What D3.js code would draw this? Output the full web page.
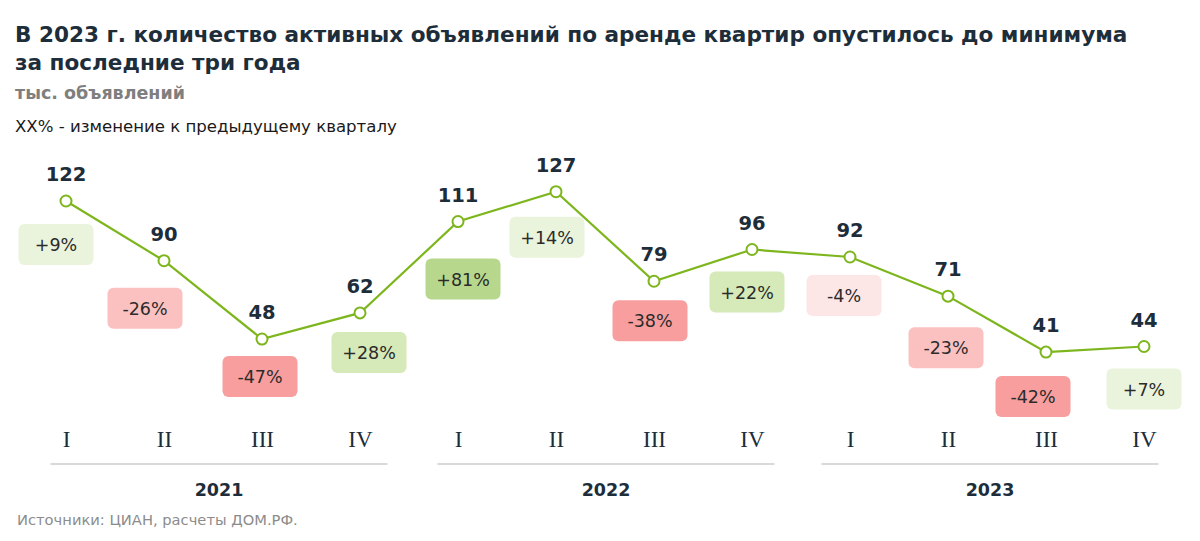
<!DOCTYPE html>
<html>
<head>
<meta charset="utf-8">
<script src="https://cdn.jsdelivr.net/npm/d3@7/dist/d3.min.js"></script>
<style>
  html, body { margin: 0; padding: 0; background: #ffffff; }
  svg { display: block; }
</style>
</head>
<body>
<svg id="chart" width="1200" height="541"></svg>
<script>
// ---- data ----
const quarters = ["I", "II", "III", "IV", "I", "II", "III", "IV", "I", "II", "III", "IV"];
const years = ["2021", "2022", "2023"];
const values = [122, 90, 48, 62, 111, 127, 79, 96, 92, 71, 41, 44];
const changes = [9, -26, -47, 28, 81, 14, -38, 22, -4, -23, -42, 7];

// ---- layout (label box placement relative to each point, as in the original) ----
const boxDx = [-10, -19, -2, 9, 5, -9, -4, -5, -6, -2, -13, 0];
const boxDy = [23, 27, 17, 19, 37, 25, 19, 22, 18, 31, 24, 22];

const svg = d3.select("#chart");
const dark = "#1e2d3a";
const lineGreen = "#7db61c";

function fitWidth(sel, target) {
  const node = sel.node();
  const fs = parseFloat(sel.attr("font-size"));
  const w = node.getComputedTextLength();
  sel.attr("font-size", (fs * target / w).toFixed(2));
  return fs * target / w;
}

// ---- titles ----
const t1 = svg.append("text").attr("x", 15).attr("y", 42)
  .attr("font-family", "DejaVu Sans, Verdana, sans-serif").attr("font-weight", "bold")
  .attr("font-size", 22).attr("fill", dark)
  .text("В 2023 г. количество активных объявлений по аренде квартир опустилось до минимума");
const titleSize = fitWidth(t1, 1113);
svg.append("text").attr("x", 15).attr("y", 70)
  .attr("font-family", "DejaVu Sans, Verdana, sans-serif").attr("font-weight", "bold")
  .attr("font-size", titleSize).attr("fill", dark)
  .text("за последние три года");
const t3 = svg.append("text").attr("x", 15).attr("y", 99)
  .attr("font-family", "DejaVu Sans, Verdana, sans-serif").attr("font-weight", "bold")
  .attr("font-size", 17).attr("fill", "#7f7f7f")
  .text("тыс. объявлений");
fitWidth(t3, 170);
const t4 = svg.append("text").attr("x", 15).attr("y", 132)
  .attr("font-family", "DejaVu Sans, Verdana, sans-serif")
  .attr("font-size", 17).attr("fill", "#1a1a1a")
  .text("XX% - изменение к предыдущему кварталу");
fitWidth(t4, 382);

// ---- scales ----
const idx = d3.range(values.length);
const x = d3.scalePoint().domain(idx).range([66, 1144]);
const y = d3.scaleLinear().domain([41, 127]).range([352.1, 191.7]);

// ---- change boxes ----
function boxColor(c) {
  const a = Math.abs(c);
  if (c >= 0) return a < 15 ? "#eaf3dc" : (a < 30 ? "#d6e9b8" : "#b7d88c");
  return a < 15 ? "#fde6e6" : (a < 30 ? "#fbc1c1" : "#f89e9e");
}
const bw = 75, bh = 41;
const boxes = svg.append("g").selectAll("g").data(idx).join("g")
  .attr("transform", i => `translate(${x(i) + boxDx[i] - bw / 2},${y(values[i]) + boxDy[i]})`);
boxes.append("rect").attr("width", bw).attr("height", bh).attr("rx", 6).attr("ry", 6)
  .attr("fill", i => boxColor(changes[i]));
boxes.append("text").attr("x", bw / 2).attr("y", bh / 2 + 6.5)
  .attr("text-anchor", "middle")
  .attr("font-family", "DejaVu Sans, Verdana, sans-serif").attr("font-size", 17.5)
  .attr("fill", "#2b2b2b")
  .text(i => (changes[i] > 0 ? "+" : "") + changes[i] + "%");

// ---- line ----
const line = d3.line().x(i => x(i)).y(i => y(values[i]));
svg.append("path").datum(idx).attr("d", line)
  .attr("fill", "none").attr("stroke", lineGreen).attr("stroke-width", 2.2);
svg.append("g").selectAll("circle").data(idx).join("circle")
  .attr("cx", i => x(i)).attr("cy", i => y(values[i])).attr("r", 5.5)
  .attr("fill", "#ffffff").attr("stroke", lineGreen).attr("stroke-width", 2);

// ---- value labels ----
svg.append("g").selectAll("text").data(idx).join("text")
  .attr("x", i => x(i)).attr("y", i => y(values[i]) - 20)
  .attr("text-anchor", "middle")
  .attr("font-family", "DejaVu Sans, Verdana, sans-serif").attr("font-weight", "bold")
  .attr("font-size", 19.5).attr("fill", dark)
  .text(i => values[i]);

// ---- quarter axis ----
const axisG = svg.append("g").attr("transform", "translate(0,447)");
const axis = d3.axisBottom(x).tickSize(0).tickPadding(0).tickFormat(i => quarters[i]);
axisG.call(axis);
axisG.select(".domain").remove();
axisG.selectAll("text")
  .attr("dy", 0).attr("y", 0)
  .attr("font-family", "Liberation Serif, Times New Roman, serif")
  .attr("font-size", 23).attr("fill", dark);

// ---- year groups ----
const groupW = 337;
years.forEach((yr, k) => {
  const cx = (x(k * 4) + x(k * 4 + 3)) / 2 + (k === 0 ? 6 : (k === 1 ? 1 : -7));
  svg.append("line")
    .attr("x1", cx - groupW / 2).attr("x2", cx + groupW / 2)
    .attr("y1", 464).attr("y2", 464)
    .attr("stroke", "#d9d9d9").attr("stroke-width", 2);
  svg.append("text").attr("x", cx).attr("y", 496)
    .attr("text-anchor", "middle")
    .attr("font-family", "DejaVu Sans, Verdana, sans-serif").attr("font-weight", "bold")
    .attr("font-size", 17.5).attr("fill", dark)
    .text(yr);
});

// ---- source ----
const src = svg.append("text").attr("x", 17).attr("y", 525)
  .attr("font-family", "DejaVu Sans, Verdana, sans-serif")
  .attr("font-size", 15).attr("fill", "#8c8c8c")
  .text("Источники: ЦИАН, расчеты ДОМ.РФ.");
fitWidth(src, 281);
</script>
</body>
</html>
